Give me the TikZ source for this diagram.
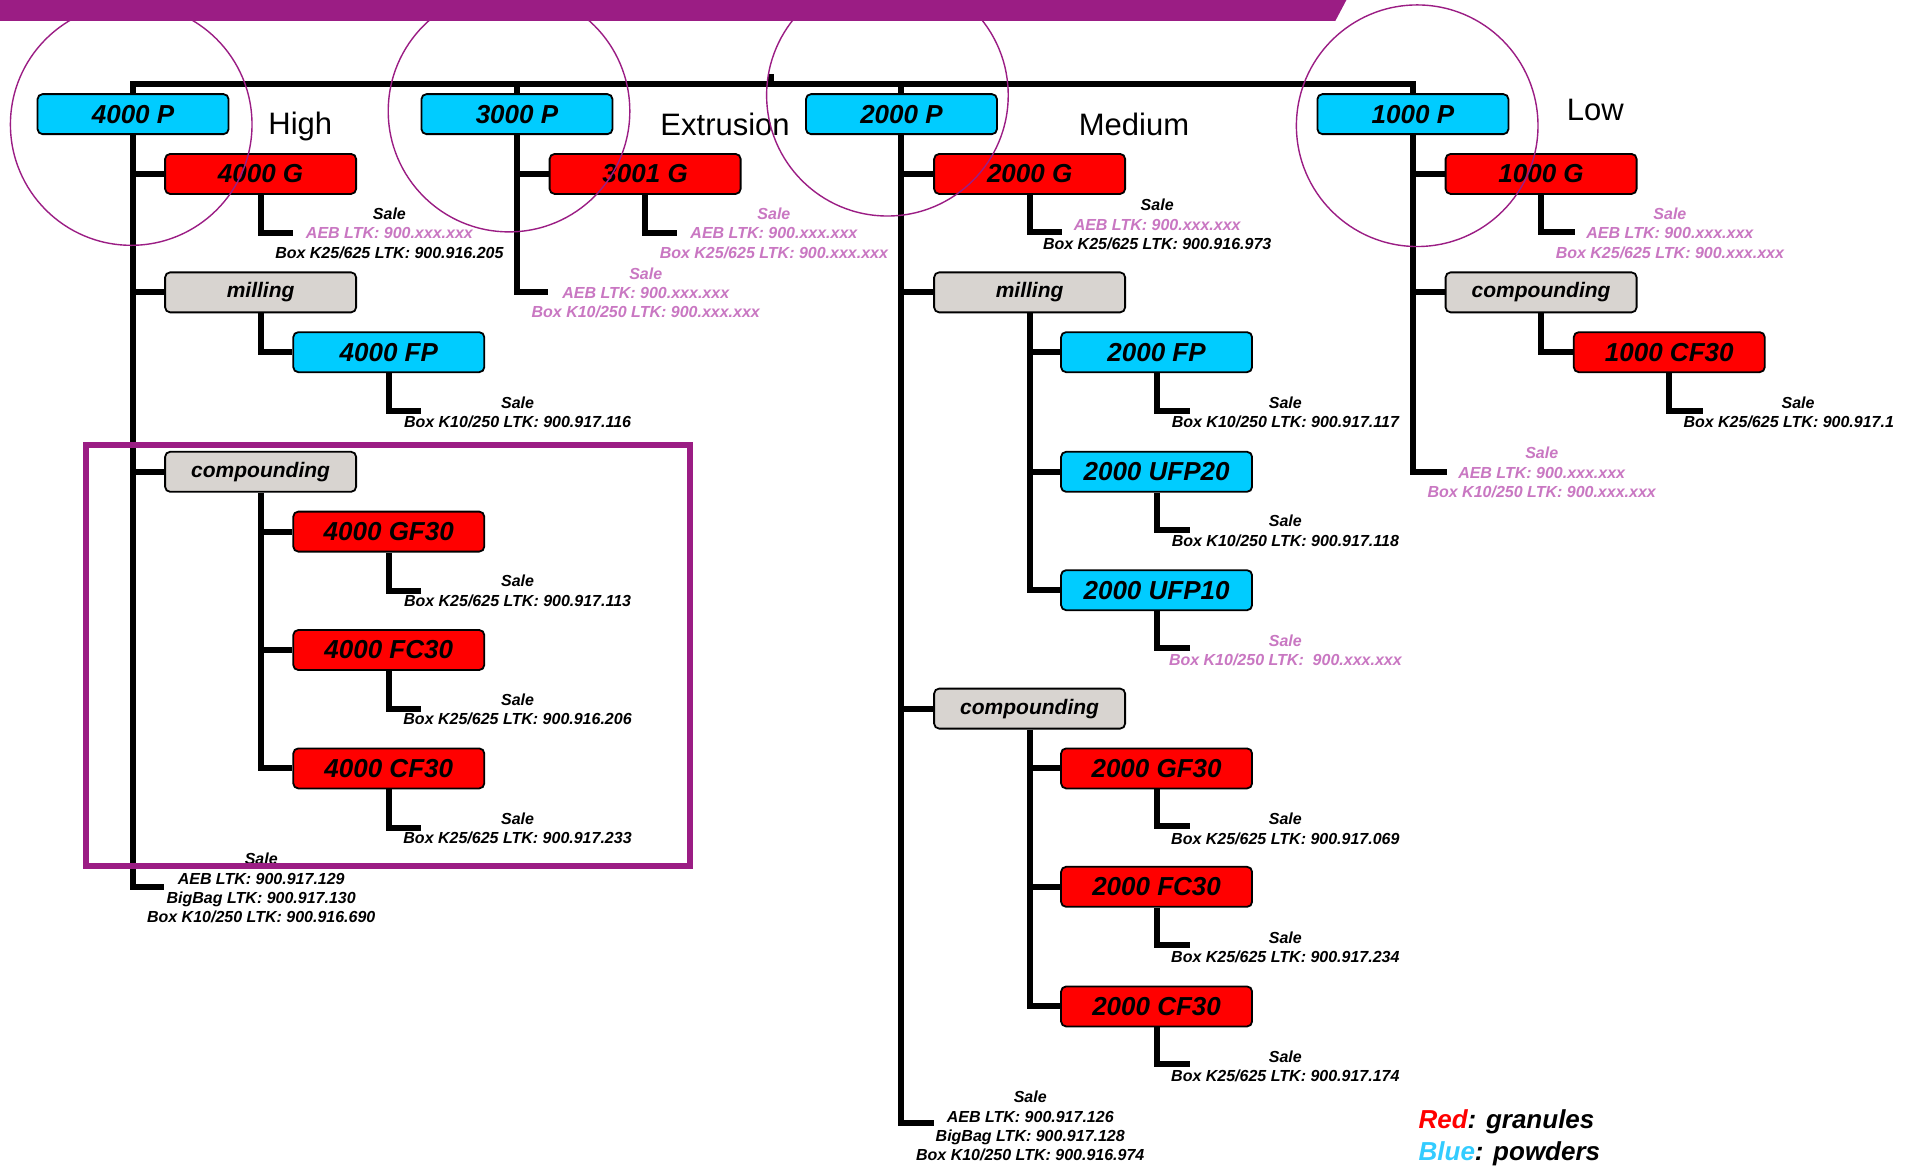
\documentclass[tikz,border=0pt]{standalone}
\usepackage{fontspec}
\setmainfont{Liberation Sans}
\usetikzlibrary{backgrounds}
\definecolor{pblue}{HTML}{00CCFF}
\definecolor{gred}{HTML}{FF0000}
\definecolor{mgray}{HTML}{D8D4D0}
\definecolor{salepink}{HTML}{C977C2}
\definecolor{purp}{HTML}{9B1D84}
\definecolor{legblue}{HTML}{33CCFF}
\newcommand{\pinktxt}[1]{\textcolor{salepink}{#1}}
\begin{document}
\begin{tikzpicture}[x=1.2207pt,y=-1.2207pt,
  prodbox/.style={draw=black, line width=1.8pt, rounded corners=5pt, minimum width=191pt, minimum height=40pt, inner sep=0pt, font=\fontsize{26}{30}\selectfont\bfseries\itshape},
  powder/.style={prodbox, fill=pblue},
  granule/.style={prodbox, fill=gred},
  process/.style={prodbox, fill=mgray, font=\fontsize{21}{25}\selectfont\bfseries\itshape},
  conn/.style={line width=6pt, black},
  saletext/.style={font=\fontsize{16}{19.3}\selectfont\bfseries\itshape, align=center, inner sep=0pt},
  pinksale/.style={saletext, text=salepink},
  cat/.style={font=\fontsize{31}{36}\selectfont, inner sep=0pt},
  legend/.style={font=\fontsize{26}{32}\selectfont\bfseries\itshape, inner sep=0pt, anchor=west},
  ring/.style={draw=purp, line width=1.4pt},
]
\useasboundingbox (0,0) rectangle (1568,955);

% ---------- column 4000 ----------
\node[powder]  (p4000)  at (109,93.5)   {4000 P};
\node[granule] (g4000)  at (213.5,142.5) {4000 G};
\node[process] (mill1)  at (213.5,239.5) {milling};
\node[powder]  (fp4000) at (318.5,288.5) {4000 FP};
\node[process] (comp1)  at (213.5,386.5) {compounding};
\node[granule] (gf4000) at (318.5,435.5) {4000 GF30};
\node[granule] (fc4000) at (318.5,532.5) {4000 FC30};
\node[granule] (cf4000) at (318.5,629.5) {4000 CF30};

\node[saletext] (sg4000)  at (319,191) {Sale\\\pinktxt{AEB LTK: 900.xxx.xxx}\\Box K25/625 LTK: 900.916.205};
\node[saletext] (sfp4000) at (424,338) {Sale\\Box K10/250 LTK: 900.917.116};
\node[saletext] (sgf4000) at (424,484) {Sale\\Box K25/625 LTK: 900.917.113};
\node[saletext] (sfc4000) at (424,581) {Sale\\Box K25/625 LTK: 900.916.206};
\node[saletext] (scf4000) at (424,678.5) {Sale\\Box K25/625 LTK: 900.917.233};
\node[saletext] (sp4000)  at (214,727.5) {Sale\\AEB LTK: 900.917.129\\BigBag LTK: 900.917.130\\Box K10/250 LTK: 900.916.690};

\coordinate (eg4000)  at (240,191);
\coordinate (efp4000) at (345,337);
\coordinate (egf4000) at (345,484);
\coordinate (efc4000) at (345,581);
\coordinate (ecf4000) at (345,678);
\coordinate (ep4000)  at (134,727);

% ---------- column 3000 ----------
\node[powder]  (p3000) at (423.5,93.5)  {3000 P};
\node[granule] (g3001) at (528.5,142.5) {3001 G};
\node[pinksale] (sg3001) at (634,191) {Sale\\AEB LTK: 900.xxx.xxx\\Box K25/625 LTK: 900.xxx.xxx};
\node[pinksale] (sp3000) at (529,240) {Sale\\AEB LTK: 900.xxx.xxx\\Box K10/250 LTK: 900.xxx.xxx};
\coordinate (eg3001) at (555,191);
\coordinate (ep3000) at (449,239.5);

% ---------- column 2000 ----------
\node[powder]  (p2000)  at (738.5,93.5)  {2000 P};
\node[granule] (g2000)  at (843.5,142.5) {2000 G};
\node[process] (mill3)  at (843.5,239.5) {milling};
\node[powder]  (fp2000) at (947.5,288.5) {2000 FP};
\node[powder]  (ufp20)  at (947.5,386.5) {2000 UFP20};
\node[powder]  (ufp10)  at (947.5,483.5) {2000 UFP10};
\node[process] (comp3)  at (843.5,580.5) {compounding};
\node[granule] (gf2000) at (947.5,629.5) {2000 GF30};
\node[granule] (fc2000) at (947.5,726.5) {2000 FC30};
\node[granule] (cf2000) at (947.5,824.5) {2000 CF30};

\node[saletext] (sg2000)  at (948,184) {Sale\\\pinktxt{AEB LTK: 900.xxx.xxx}\\Box K25/625 LTK: 900.916.973};
\node[saletext] (sfp2000) at (1053,338) {Sale\\Box K10/250 LTK: 900.917.117};
\node[saletext] (sufp20)  at (1053,435) {Sale\\Box K10/250 LTK: 900.917.118};
\node[pinksale] (sufp10)  at (1053,533) {Sale\\Box K10/250 LTK: \ 900.xxx.xxx};
\node[saletext] (sgf2000) at (1053,679) {Sale\\Box K25/625 LTK: 900.917.069};
\node[saletext] (sfc2000) at (1053,776) {Sale\\Box K25/625 LTK: 900.917.234};
\node[saletext] (scf2000) at (1053,873.5) {Sale\\Box K25/625 LTK: 900.917.174};
\node[saletext] (sp2000)  at (844,922.5) {Sale\\AEB LTK: 900.917.126\\BigBag LTK: 900.917.128\\Box K10/250 LTK: 900.916.974};

\coordinate (eg2000)  at (870,190);
\coordinate (efp2000) at (975,337);
\coordinate (eufp20)  at (975,434);
\coordinate (eufp10)  at (975,531);
\coordinate (egf2000) at (975,677);
\coordinate (efc2000) at (975,774);
\coordinate (ecf2000) at (975,872);
\coordinate (ep2000)  at (765,920);

% ---------- column 1000 ----------
\node[powder]  (p1000)  at (1157.5,93.5)  {1000 P};
\node[granule] (g1000)  at (1262.5,142.5) {1000 G};
\node[process] (comp4)  at (1262.5,239.5) {compounding};
\node[granule] (cf1000) at (1367.5,288.5) {1000 CF30};
\node[pinksale] (sg1000) at (1368,191) {Sale\\AEB LTK: 900.xxx.xxx\\Box K25/625 LTK: 900.xxx.xxx};
\node[saletext] (scf1000a) at (1473,330) {Sale};
\node[saletext, anchor=west] (scf1000b) at (1379,346) {Box K25/625 LTK: 900.917.1};
\node[pinksale] (sp1000) at (1263,387) {Sale\\AEB LTK: 900.xxx.xxx\\Box K10/250 LTK: 900.xxx.xxx};
\coordinate (eg1000)  at (1290,190);
\coordinate (ecf1000) at (1395,337);
\coordinate (ep1000)  at (1185,387);

% ---------- category labels and legend ----------
\node[cat] (lhigh) at (246,104) {High};
\node[cat] (lext)  at (594,102) {Extrusion};
\node[cat] (lmed)  at (929,102) {Medium};
\node[cat] (llow)  at (1307,90) {Low};
\node[legend] (leg1) at (1162,919) {\textcolor{gred}{Red}: granules};
\node[legend] (leg2) at (1162,945) {\textcolor{legblue}{Blue}: powders};

% ---------- connectors ----------
\coordinate (topline) at (0,69);
\coordinate (root) at (632,61);
\begin{pgfonlayer}{background}
\fill[white] (0,0) rectangle (1568,955);
\draw[conn, line cap=rect] (p4000 |- topline) -- (p1000 |- topline);
\draw[conn] (root) -- (root |- topline);
% column 4000
\draw[conn] (p4000 |- topline) |- (ep4000);
\draw[conn] (p4000 |- g4000) -- (g4000.west);
\draw[conn] (p4000 |- mill1) -- (mill1.west);
\draw[conn] (p4000 |- comp1) -- (comp1.west);
\draw[conn] (g4000.south) |- (eg4000);
\draw[conn] (mill1.south) |- (fp4000.west);
\draw[conn] (fp4000.south) |- (efp4000);
\draw[conn] (comp1.south) |- (cf4000.west);
\draw[conn] (comp1.south |- gf4000) -- (gf4000.west);
\draw[conn] (comp1.south |- fc4000) -- (fc4000.west);
\draw[conn] (gf4000.south) |- (egf4000);
\draw[conn] (fc4000.south) |- (efc4000);
\draw[conn] (cf4000.south) |- (ecf4000);
% column 3000
\draw[conn] (p3000 |- topline) |- (ep3000);
\draw[conn] (p3000 |- g3001) -- (g3001.west);
\draw[conn] (g3001.south) |- (eg3001);
% column 2000
\draw[conn] (p2000 |- topline) |- (ep2000);
\draw[conn] (p2000 |- g2000) -- (g2000.west);
\draw[conn] (p2000 |- mill3) -- (mill3.west);
\draw[conn] (p2000 |- comp3) -- (comp3.west);
\draw[conn] (g2000.south) |- (eg2000);
\draw[conn] (mill3.south) |- (ufp10.west);
\draw[conn] (mill3.south |- fp2000) -- (fp2000.west);
\draw[conn] (mill3.south |- ufp20) -- (ufp20.west);
\draw[conn] (fp2000.south) |- (efp2000);
\draw[conn] (ufp20.south) |- (eufp20);
\draw[conn] (ufp10.south) |- (eufp10);
\draw[conn] (comp3.south) |- (cf2000.west);
\draw[conn] (comp3.south |- gf2000) -- (gf2000.west);
\draw[conn] (comp3.south |- fc2000) -- (fc2000.west);
\draw[conn] (gf2000.south) |- (egf2000);
\draw[conn] (fc2000.south) |- (efc2000);
\draw[conn] (cf2000.south) |- (ecf2000);
% column 1000
\draw[conn] (p1000 |- topline) |- (ep1000);
\draw[conn] (p1000 |- g1000) -- (g1000.west);
\draw[conn] (p1000 |- comp4) -- (comp4.west);
\draw[conn] (g1000.south) |- (eg1000);
\draw[conn] (comp4.south) |- (cf1000.west);
\draw[conn] (cf1000.south) |- (ecf1000);
\end{pgfonlayer}

% ---------- highlights ----------
\draw[purp, line width=6pt] (70.5,364.5) rectangle (565.5,709.5);
\draw[ring] (107.5,102) circle[radius=120.8pt];
\draw[ring] (417,91) circle[radius=120.8pt];
\draw[ring] (727,78) circle[radius=120.8pt];
\draw[ring] (1161,103) circle[radius=120.8pt];
\fill[purp] (0,0) -- (1103,0) -- (1094,17) -- (0,17) -- cycle;
\end{tikzpicture}
\end{document}
